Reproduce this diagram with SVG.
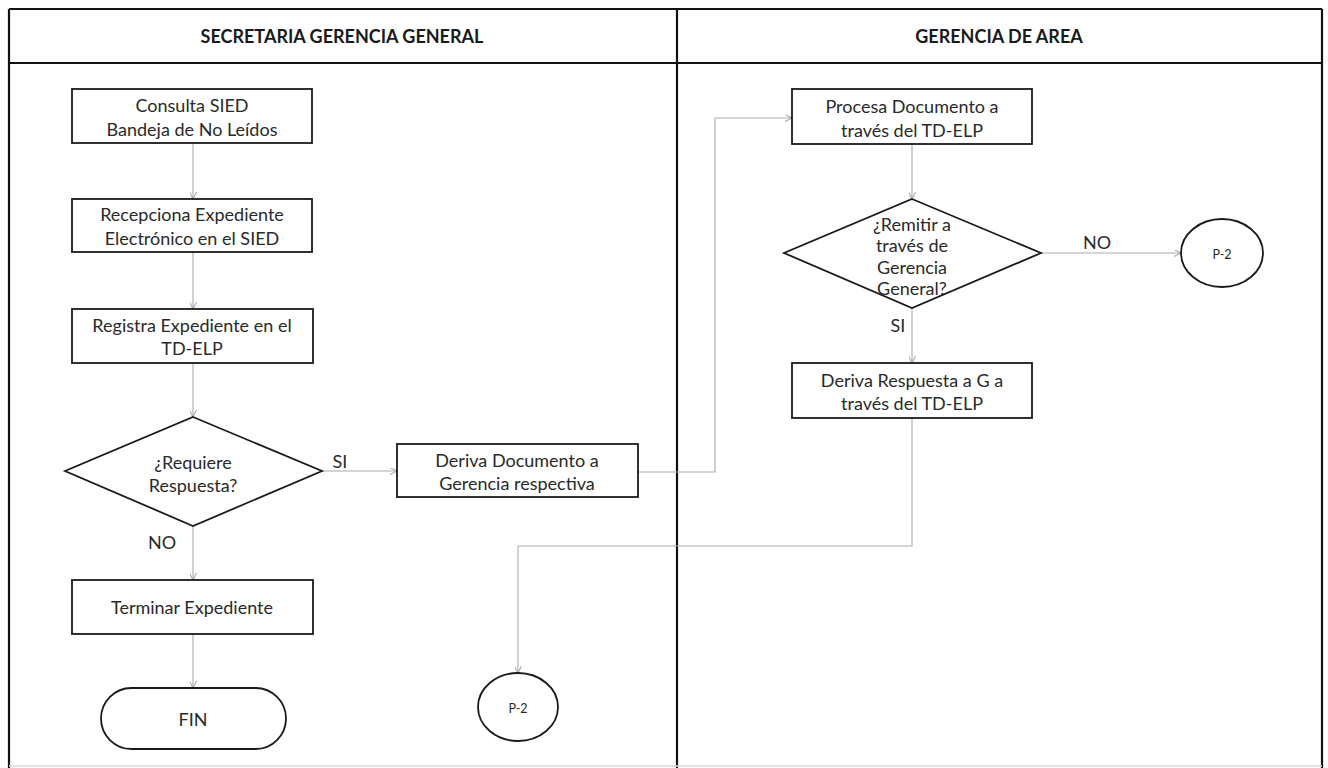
<svg xmlns="http://www.w3.org/2000/svg" width="1328" height="768" viewBox="0 0 1328 768">
<style>
.frame{fill:none;stroke:#111;stroke-width:2.2}
.node{fill:#fff;stroke:#1a1a1a;stroke-width:1.8}
.t{font-family:Lato,"Liberation Sans",sans-serif;font-size:18px;fill:#2a2a2a;text-anchor:middle;dominant-baseline:central}
.h{font-family:Lato,"Liberation Sans",sans-serif;font-size:18px;font-weight:bold;fill:#1a1a1a;text-anchor:middle;dominant-baseline:central}
.s{font-family:Lato,"Liberation Sans",sans-serif;font-size:12.5px;fill:#2a2a2a;text-anchor:middle;dominant-baseline:central}
.c{fill:none;stroke:#ababab;stroke-width:1.1}
</style>
<defs>
<marker id="arr" viewBox="0 0 10 10" refX="10" refY="5" markerWidth="7" markerHeight="7" orient="auto" markerUnits="userSpaceOnUse">
<path d="M0,0 L10,5 L0,10" fill="none" stroke="#999" stroke-width="1.4"/>
</marker>
</defs>
<rect width="1328" height="768" fill="#fff"/>
<g id="frame">
<line class="frame" x1="9" y1="9" x2="1322" y2="9"/>
<line class="frame" x1="9" y1="63" x2="1322" y2="63"/>
<line class="frame" x1="9" y1="9" x2="9" y2="768"/>
<line class="frame" x1="677" y1="9" x2="677" y2="768"/>
<line class="frame" x1="1322" y1="9" x2="1322" y2="768"/>
<line x1="9" y1="766" x2="1322" y2="766" stroke="#d8d8d8" stroke-width="1.5"/>
</g>
<g id="lane-sgg"><text class="h" x="342" y="36">SECRETARIA GERENCIA GENERAL</text></g>
<g id="lane-ga"><text class="h" x="999" y="36">GERENCIA DE AREA</text></g>
<g id="connectors">
<line class="c" x1="193" y1="143" x2="193" y2="199" marker-end="url(#arr)"/>
<line class="c" x1="193" y1="252" x2="193" y2="309" marker-end="url(#arr)"/>
<line class="c" x1="193" y1="363" x2="193" y2="417" marker-end="url(#arr)"/>
<line class="c" x1="193" y1="526" x2="193" y2="580" marker-end="url(#arr)"/>
<line class="c" x1="193" y1="634" x2="193" y2="688" marker-end="url(#arr)"/>
<line class="c" x1="322" y1="471" x2="397" y2="471" marker-end="url(#arr)"/>
<polyline class="c" points="638,472 715,472 715,118 792,118" marker-end="url(#arr)"/>
<line class="c" x1="912" y1="144" x2="912" y2="199" marker-end="url(#arr)"/>
<line class="c" x1="912" y1="308" x2="912" y2="363" marker-end="url(#arr)"/>
<line class="c" x1="1041" y1="253" x2="1181" y2="253" marker-end="url(#arr)"/>
<polyline class="c" points="912,418 912,546 518,546 518,673" marker-end="url(#arr)"/>
<text class="t" x="340" y="461">SI</text>
<text class="t" x="162" y="542">NO</text>
<text class="t" x="1097" y="242">NO</text>
<text class="t" x="898" y="325">SI</text>
</g>
<g id="n1"><rect class="node" x="72" y="89" width="240" height="54"/><text class="t" x="192" y="105">Consulta SIED</text><text class="t" x="192" y="129">Bandeja de No Leídos</text></g>
<g id="n2"><rect class="node" x="72" y="199" width="240" height="53"/><text class="t" x="192" y="214">Recepciona Expediente</text><text class="t" x="192" y="238">Electrónico en el SIED</text></g>
<g id="n3"><rect class="node" x="72" y="309" width="241" height="54"/><text class="t" x="192" y="325">Registra Expediente en el</text><text class="t" x="192" y="348">TD-ELP</text></g>
<g id="d1"><polygon class="node" points="193,417 322,471 193,526 65,471"/><text class="t" x="193" y="462">¿Requiere</text><text class="t" x="193" y="485">Respuesta?</text></g>
<g id="n4"><rect class="node" x="397" y="444" width="241" height="53"/><text class="t" x="517" y="460">Deriva Documento a</text><text class="t" x="517" y="483">Gerencia respectiva</text></g>
<g id="n5"><rect class="node" x="72" y="580" width="241" height="54"/><text class="t" x="192" y="607">Terminar Expediente</text></g>
<g id="fin"><rect class="node" x="101" y="688" width="185" height="61" rx="30.5"/><text class="t" x="193" y="719">FIN</text></g>
<g id="p2a"><ellipse class="node" cx="518" cy="707" rx="40" ry="34"/><text class="s" x="518" y="708">P-2</text></g>
<g id="n6"><rect class="node" x="792" y="89" width="240" height="55"/><text class="t" x="912" y="106">Procesa Documento a</text><text class="t" x="912" y="130">través del TD-ELP</text></g>
<g id="d2"><polygon class="node" points="912,199 1041,253 912,308 784,253"/><text class="t" x="912" y="224">¿Remitir a</text><text class="t" x="912" y="245">través de</text><text class="t" x="912" y="267">Gerencia</text><text class="t" x="912" y="288">General?</text></g>
<g id="n7"><rect class="node" x="792" y="363" width="240" height="55"/><text class="t" x="912" y="380">Deriva Respuesta a G a</text><text class="t" x="912" y="403">través del TD-ELP</text></g>
<g id="p2b"><ellipse class="node" cx="1222" cy="253" rx="41" ry="34"/><text class="s" x="1222" y="254">P-2</text></g>
</svg>
